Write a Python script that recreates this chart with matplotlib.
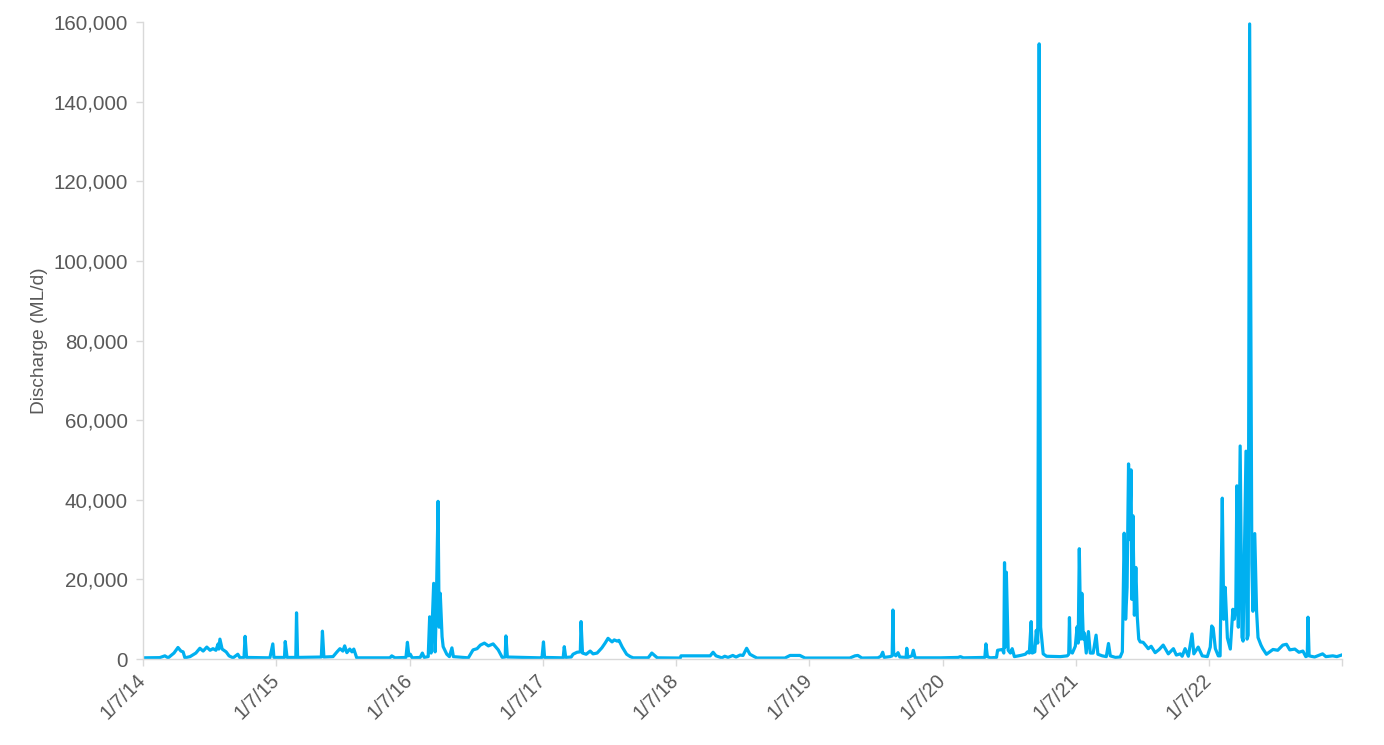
import matplotlib
matplotlib.use("Agg")
import matplotlib.pyplot as plt
import matplotlib.dates as mdates
from matplotlib.ticker import FuncFormatter
import pandas as pd

plt.rcParams['font.family'] = ['Liberation Sans', 'DejaVu Sans']

# Daily discharge (ML/d), key points only
dates = [
    "2014-07-01", "2014-08-16", "2014-08-30", "2014-09-08", "2014-09-24", "2014-10-05", "2014-10-13",
    "2014-10-19", "2014-10-24", "2014-11-07", "2014-11-23", "2014-12-04", "2014-12-13", "2014-12-23",
    "2015-01-01", "2015-01-09", "2015-01-17", "2015-01-23", "2015-01-25", "2015-01-28", "2015-02-03",
    "2015-02-14", "2015-02-22", "2015-03-05", "2015-03-18", "2015-03-24", "2015-04-04", "2015-04-07",
    "2015-04-11", "2015-06-14", "2015-06-22", "2015-06-25",
    "2015-07-24", "2015-07-26", "2015-07-31", "2015-08-24", "2015-08-26", "2015-08-29",
    "2015-11-02", "2015-11-05", "2015-11-09", "2015-12-04", "2015-12-15", "2015-12-23", "2015-12-31",
    "2016-01-05", "2016-01-11", "2016-01-19", "2016-01-25", "2016-01-30", "2016-02-07", "2016-05-08",
    "2016-05-13", "2016-05-22", "2016-06-21", "2016-06-25", "2016-06-29",
    "2016-07-03", "2016-07-08", "2016-07-30", "2016-08-05", "2016-08-10", "2016-08-21", "2016-08-25",
    "2016-08-29", "2016-09-05", "2016-09-09", "2016-09-12", "2016-09-17", "2016-09-20", "2016-09-23",
    "2016-09-28", "2016-10-01", "2016-10-11", "2016-10-18", "2016-10-25", "2016-10-29", "2016-12-09",
    "2016-12-22", "2017-01-02", "2017-01-11", "2017-01-22", "2017-02-02", "2017-02-15", "2017-03-01",
    "2017-03-12", "2017-03-20", "2017-03-22", "2017-03-26", "2017-06-24", "2017-06-29",
    "2017-07-03", "2017-07-06", "2017-08-26", "2017-08-29", "2017-09-02", "2017-09-17", "2017-09-22",
    "2017-10-03", "2017-10-12", "2017-10-14", "2017-10-18", "2017-10-28", "2017-11-08", "2017-11-16",
    "2017-11-27", "2017-12-10", "2017-12-19", "2017-12-27", "2018-01-07", "2018-01-13", "2018-01-21",
    "2018-01-26", "2018-02-04", "2018-02-16", "2018-02-26", "2018-03-06", "2018-04-16", "2018-04-26",
    "2018-05-05", "2018-05-11", "2018-07-01",
    "2018-07-13", "2018-07-15", "2018-10-03", "2018-10-11", "2018-10-19", "2018-11-04", "2018-11-12",
    "2018-11-21", "2018-12-04", "2018-12-13", "2018-12-24", "2019-01-01", "2019-01-11", "2019-01-20",
    "2019-01-28", "2019-02-08", "2019-04-26", "2019-05-10", "2019-06-06", "2019-06-20",
    "2019-10-21", "2019-11-04", "2019-11-12", "2019-11-23", "2020-01-06", "2020-01-14", "2020-01-19",
    "2020-01-23", "2020-02-08", "2020-02-14", "2020-02-16", "2020-02-18", "2020-02-24", "2020-03-01",
    "2020-03-06", "2020-03-23", "2020-03-25", "2020-03-28", "2020-04-08", "2020-04-12", "2020-04-17",
    "2020-06-25",
    "2020-08-13", "2020-08-19", "2020-08-27", "2020-10-25", "2020-10-28", "2020-11-01", "2020-11-09",
    "2020-11-26", "2020-11-29", "2020-12-12", "2020-12-16", "2020-12-18", "2020-12-20", "2020-12-23",
    "2020-12-28", "2021-01-03", "2021-01-08", "2021-01-14", "2021-01-31", "2021-02-13", "2021-02-19",
    "2021-02-24", "2021-03-01", "2021-03-04", "2021-03-11", "2021-03-15", "2021-03-19", "2021-03-23",
    "2021-03-27", "2021-04-03", "2021-04-12", "2021-05-20", "2021-06-08", "2021-06-12", "2021-06-14",
    "2021-06-16", "2021-06-22", "2021-06-30",
    "2021-07-05", "2021-07-08", "2021-07-11", "2021-07-15", "2021-07-18", "2021-07-22", "2021-07-25",
    "2021-07-30", "2021-08-05", "2021-08-10", "2021-08-18", "2021-08-26", "2021-08-31", "2021-09-12",
    "2021-09-23", "2021-09-29", "2021-10-04", "2021-10-18", "2021-10-31", "2021-11-06", "2021-11-11",
    "2021-11-15", "2021-11-19", "2021-11-23", "2021-11-26", "2021-11-30", "2021-12-02", "2021-12-05",
    "2021-12-09", "2021-12-13", "2021-12-17", "2021-12-21", "2021-12-25", "2022-01-02", "2022-01-11",
    "2022-01-16", "2022-01-24", "2022-02-04", "2022-02-15", "2022-02-26", "2022-03-12", "2022-03-26",
    "2022-04-03", "2022-04-14", "2022-04-19", "2022-04-27", "2022-05-06", "2022-05-16", "2022-05-21",
    "2022-06-02", "2022-06-13", "2022-06-27",
    "2022-07-05", "2022-07-09", "2022-07-13", "2022-07-19", "2022-07-27", "2022-08-01", "2022-08-07",
    "2022-08-11", "2022-08-15", "2022-08-21", "2022-08-29", "2022-09-05", "2022-09-09", "2022-09-13",
    "2022-09-16", "2022-09-20", "2022-09-25", "2022-09-30", "2022-10-03", "2022-10-11", "2022-10-14",
    "2022-10-17", "2022-10-21", "2022-10-27", "2022-10-30", "2022-11-04", "2022-11-09", "2022-11-13",
    "2022-11-21", "2022-11-26", "2022-12-06", "2022-12-15", "2022-12-24", "2023-01-06", "2023-01-20",
    "2023-01-30", "2023-02-08", "2023-02-22", "2023-03-05", "2023-03-16", "2023-03-24", "2023-03-28",
    "2023-03-30", "2023-04-02", "2023-04-17", "2023-05-09", "2023-05-18", "2023-06-06", "2023-06-17",
    "2023-06-30",
]

discharge = [
    300, 350, 800, 300, 1500, 2900, 2000,
    1800, 300, 600, 1500, 2700, 2000, 3000,
    2200, 2600, 2200, 3800, 2500, 5000, 2500,
    1800, 800, 300, 1200, 300, 400, 5700,
    400, 300, 3800, 400,
    400, 4400, 400, 400, 11600, 400,
    500, 7000, 500, 600, 1800, 2600, 2000,
    3300, 1600, 2500, 1800, 2500, 300, 300,
    800, 300, 400, 4200, 800,
    1200, 300, 400, 1500, 400, 600, 10600,
    1500, 19000, 1800, 12000, 39600, 8000, 16500,
    5600, 3100, 1200, 600, 2800, 600, 300,
    2300, 2600, 3500, 4000, 3300, 3800, 2300,
    400, 500, 5800, 500, 300, 400,
    4300, 400, 300, 3100, 400, 500, 1200,
    1700, 1800, 9400, 1500, 1200, 2000, 1300,
    1500, 2800, 4000, 5200, 4300, 4800, 4500,
    4700, 3000, 1200, 600, 300, 300, 1500,
    800, 300, 250,
    250, 800, 800, 1700, 800, 300, 700,
    400, 900, 500, 1000, 900, 2700, 1200,
    800, 250, 250, 900, 900, 250,
    250, 800, 900, 250, 300, 700, 1700,
    400, 600, 800, 12300, 1500, 800, 1600,
    500, 400, 2700, 400, 800, 2200, 300,
    300,
    400, 600, 300, 400, 3800, 600, 300,
    400, 2200, 2400, 1500, 24200, 3000, 21800,
    2200, 1500, 2600, 600, 900, 1200, 1800,
    1500, 9400, 1500, 1800, 7200, 4000, 154500,
    8000, 1300, 700, 600, 800, 1200, 10400,
    2000, 1500, 3200,
    8100, 4000, 27700, 5000, 16500, 5000, 6500,
    1500, 6900, 1500, 1500, 6000, 1200, 800,
    600, 3900, 800, 400, 500, 1800, 31600,
    10000, 18000, 49000, 30000, 47500, 15000, 36000,
    11000, 23000, 10500, 5000, 4300, 4200, 3200,
    2600, 3200, 1600, 2400, 3500, 1300, 2600,
    1000, 1300, 700, 2600, 700, 6300, 1300,
    3000, 800, 600,
    3000, 8300, 7800, 2600, 800, 800, 40400,
    10000, 18000, 5300, 2500, 12500, 10000, 12700,
    43500, 8000, 53500, 5500, 4500, 52200, 5000,
    6000, 159500, 24000, 12000, 31500, 12000, 5400,
    3500, 2600, 1200, 1800, 2400, 2200, 3500,
    3700, 2300, 2500, 1700, 2000, 600, 800,
    10500, 800, 500, 1300, 600, 800, 600,
    1000,
]

tick_dates = ["2014-07-01", "2015-07-01", "2016-07-01", "2017-07-01", "2018-07-01",
              "2019-07-01", "2020-07-01", "2021-07-01", "2022-07-01", "2023-07-01"]
tick_labels = ["1/7/14", "1/7/15", "1/7/16", "1/7/17", "1/7/18",
               "1/7/19", "1/7/20", "1/7/21", "1/7/22", ""]
y_ticks = [0, 20000, 40000, 60000, 80000, 100000, 120000, 140000, 160000]

x = pd.to_datetime(dates)
xt = pd.to_datetime(tick_dates)

fig = plt.figure(figsize=(13.84, 7.45), dpi=100)
ax = fig.add_axes([0.1033, 0.1154, 0.8663, 0.8551])

ax.plot(x, discharge, color="#00B0F0", linewidth=2.3, solid_joinstyle="round")

ax.set_xlim(xt[0], xt[-1])
ax.set_ylim(0, 160000)
ax.set_yticks(y_ticks)
ax.yaxis.set_major_formatter(FuncFormatter(lambda v, p: f"{int(v):,}"))
ax.set_xticks(mdates.date2num(xt))
ax.set_xticklabels(tick_labels, rotation=45, ha="right", va="center",
                   rotation_mode="anchor")

gray = "#595959"
line_gray = "#D9D9D9"
for s in ["top", "right"]:
    ax.spines[s].set_visible(False)
for s in ["left", "bottom"]:
    ax.spines[s].set_color(line_gray)
    ax.spines[s].set_linewidth(1.0)

ax.tick_params(axis="y", colors=line_gray, labelcolor=gray, labelsize=14.8,
               length=5, width=1, direction="out", pad=6)
ax.tick_params(axis="x", colors=line_gray, labelcolor=gray, labelsize=14.2,
               length=5, width=1, direction="out", pad=8)

ax.set_ylabel("Discharge (ML/d)", color=gray, fontsize=13.8, labelpad=4)

fig.savefig("out.png", dpi=100)
